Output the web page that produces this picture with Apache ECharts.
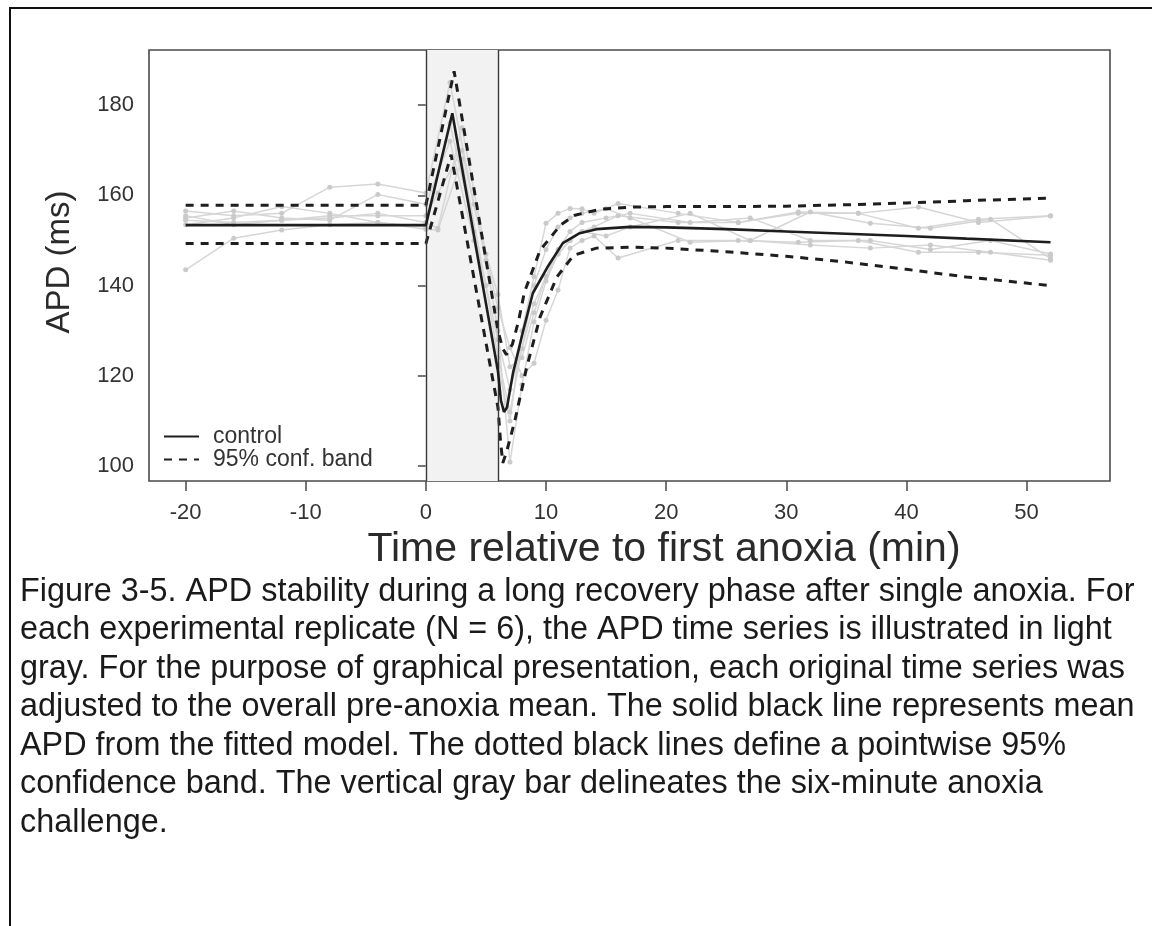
<!DOCTYPE html>
<html>
<head>
<meta charset="utf-8">
<script src="https://cdn.jsdelivr.net/npm/echarts@6/dist/echarts.min.js"></script>
<style>
html,body{margin:0;padding:0;background:#fff;}
#chart{width:1152px;height:926px;}
</style>
</head>
<body>
<div id="chart"></div>
<script>
// ---- data ----
const xTicks = [-20, -10, 0, 10, 20, 30, 40, 50];
const yTicks = [100, 120, 140, 160, 180];
const anoxiaStart = 0;
const anoxiaEnd = 6;

// replicate sampling times
const repTimesA = [-20,-16,-12,-8,-4,0,2,4,6,7,8,9,10,11,12,13,14,16,21,26,31,36,41,46,52];
const repTimesB = [-20,-16,-12,-8,-4,0,1,3,5,6,7,8,9,10,11,12,13,15,17,22,27,32,37,42,47,52];

// replicate APD values (light gray)
const repA1 = [143.5,150.5,152.3,153.5,154,153,176,152,128,117,126,136,142,147,150,152,153,155.5,154,154,156,156,157.4,154,155.4];
const repA2 = [156.5,155.5,156,161.8,162.5,160.5,185,158,135,126.3,120,122.8,132.3,139,148.3,150,151,146.1,150,150,149.6,150,147.4,147.4,146.7];
const repA3 = [155,156.5,155,154.5,160.2,158,172,150,122,110,130,142,153.8,156,157.1,157,156,158.2,156,154,156.3,156,152.7,154.7,155.5];
const repB1 = [154.5,154,154.5,155.5,155.5,155.5,160.5,170,145.6,130,100.9,118,132,141,147,150,152,151,153,156,150,156.3,153.8,152.7,154.7,146];
const repB2 = [153.5,155,157.5,156,154,152.5,152.3,168,140,124,112,126,140,148,153,155,156,157,155,149.6,150,149,148.3,149,147.4,145.6];
const repB3 = [155.5,153.5,154.5,155,156,154,152.7,175,147,138,122,124,134,142,148,152,154,155,156,154,155,150,150,148,150,147];

// fitted mean (solid)
const controlT = [-20,0,2.2,6,6.25,6.5,6.75,7.25,8.1,8.9,10.1,11.4,12.8,14.2,17,20,25,30,35,40,45,52];
const controlV = [153.4,153.4,178.2,121,114.5,112,113,120.6,130,138.3,144,149.4,151.6,152.5,153,152.9,152.5,152,151.5,151,150.4,149.6];

// 95% confidence band (dashed)
const upperT = [-20,0,2.35,4,6,6.4,6.7,7.2,7.7,8.2,9.5,11.2,12.4,14.5,17.2,20,25,30,35,40,45,52];
const upperV = [157.8,157.8,187.5,161.5,130,126,124.7,127,132,138.5,147.8,153.4,155.6,156.9,157.4,157.5,157.5,157.6,157.9,158.3,158.8,159.4];
const lowerT = [-20,0,2.1,4,6,6.2,6.4,6.7,7.4,8.4,9.5,10.9,12.3,14.2,17.2,20,25,30,35,40,45,52];
const lowerV = [149.3,149.3,169,141.7,113,106,100.7,103,110,122,133,141.9,146.7,148.3,148.5,148.3,147.5,146.5,145.2,143.6,141.9,140];

const captionLines = [
  "Figure 3-5. APD stability during a long recovery phase after single anoxia. For",
  "each experimental replicate (N = 6), the APD time series is illustrated in light",
  "gray. For the purpose of graphical presentation, each original time series was",
  "adjusted to the overall pre-anoxia mean. The solid black line represents mean",
  "APD from the fitted model. The dotted black lines define a pointwise 95%",
  "confidence band. The vertical gray bar delineates the six-minute anoxia",
  "challenge."
];

// ---- build ----
function pairs(t, v){ return t.map((x,i)=>[x, v[i]]); }

const FONT = '"Liberation Sans", Arial, Helvetica, sans-serif';
const reps = [[repTimesA,repA1],[repTimesA,repA2],[repTimesA,repA3],[repTimesB,repB1],[repTimesB,repB2],[repTimesB,repB3]];

const series = [];
// shading + vertical lines
series.push({
  type: 'line', data: [], silent: true, z: 1,
  markArea: { silent: true, itemStyle: { color: '#f2f2f2' }, data: [[{xAxis: anoxiaStart}, {xAxis: anoxiaEnd}]] },
  markLine: { silent: true, symbol: 'none', label: { show: false },
    lineStyle: { color: '#3a3a3a', width: 1.4, type: 'solid' },
    data: [{xAxis: anoxiaStart}, {xAxis: anoxiaEnd}] }
});
reps.forEach((r, i) => {
  series.push({
    type: 'line', name: 'rep' + (i+1), data: pairs(r[0], r[1]), z: 2,
    symbol: 'circle', symbolSize: 5, showSymbol: true,
    lineStyle: { color: '#d6d6d6', width: 1.5 },
    itemStyle: { color: '#cacaca' },
    silent: true
  });
});
const dashStyle = { color: '#1e1e1e', width: 3, type: [8, 7] };
series.push({ type: 'line', name: '95% conf. band', data: pairs(upperT, upperV), symbol: 'none', z: 4, lineStyle: dashStyle, itemStyle: {color:'#1e1e1e'} });
series.push({ type: 'line', name: '95% conf. band', data: pairs(lowerT, lowerV), symbol: 'none', z: 4, lineStyle: dashStyle, itemStyle: {color:'#1e1e1e'} });
series.push({ type: 'line', name: 'control', data: pairs(controlT, controlV), symbol: 'none', z: 5, lineStyle: { color: '#1e1e1e', width: 2.6 }, itemStyle: {color:'#1e1e1e'} });

const graphics = [
  // outer frame
  { type: 'polyline', shape: { points: [[10, 930], [10, 8], [1160, 8]] }, style: { stroke: '#111', lineWidth: 2, fill: null } },
  // axis titles
  { type: 'text', x: 664, y: 550, style: { text: 'Time relative to first anoxia (min)', font: '41px ' + FONT, fill: '#2a2a2a', textAlign: 'center', textVerticalAlign: 'middle' } },
  { type: 'text', x: 60, y: 262, rotation: Math.PI / 2, style: { text: 'APD (ms)', font: '33px ' + FONT, fill: '#2a2a2a', textAlign: 'center', textVerticalAlign: 'middle' } }
];
captionLines.forEach((line, i) => {
  graphics.push({ type: 'text', x: 20, y: 592 + i * 38.5, style: { text: line, font: '32.4px ' + FONT, fill: '#1a1a1a', textAlign: 'left', textVerticalAlign: 'middle' } });
});

const chart = echarts.init(document.getElementById('chart'), null, { renderer: 'canvas' });
chart.setOption({
  animation: false,
  backgroundColor: '#ffffff',
  grid: { left: 149, top: 50, right: 42, bottom: 445, show: true, borderColor: '#4a4a4a', borderWidth: 1.6, backgroundColor: 'transparent' },
  legend: {
    data: ['control', '95% conf. band'], orient: 'vertical', left: 163, top: 425,
    itemWidth: 35, itemHeight: 23, itemGap: 0, padding: 0, selectedMode: false,
    itemStyle: { opacity: 0 },
    textStyle: { fontSize: 23, fontFamily: FONT, color: '#333', lineHeight: 23, padding: [0, 0, 0, 9] }
  },
  xAxis: {
    type: 'value', min: -23.05, max: 56.95,
    axisLine: { show: false },
    splitLine: { show: false },
    axisTick: { show: true, inside: false, length: 10, customValues: xTicks, lineStyle: { color: '#4a4a4a', width: 1.5 } },
    axisLabel: { customValues: xTicks, margin: 21, fontSize: 22, fontFamily: FONT, color: '#333', formatter: v => String(v) }
  },
  yAxis: {
    type: 'value', min: 96.7, max: 192.2,
    axisLine: { show: false },
    splitLine: { show: false },
    axisTick: { show: true, inside: false, length: 8, customValues: yTicks, lineStyle: { color: '#4a4a4a', width: 1.5 } },
    axisLabel: { customValues: yTicks, margin: 15, fontSize: 22, fontFamily: FONT, color: '#333', formatter: v => String(v) }
  },
  graphic: graphics,
  series: series
});
</script>
</body>
</html>
